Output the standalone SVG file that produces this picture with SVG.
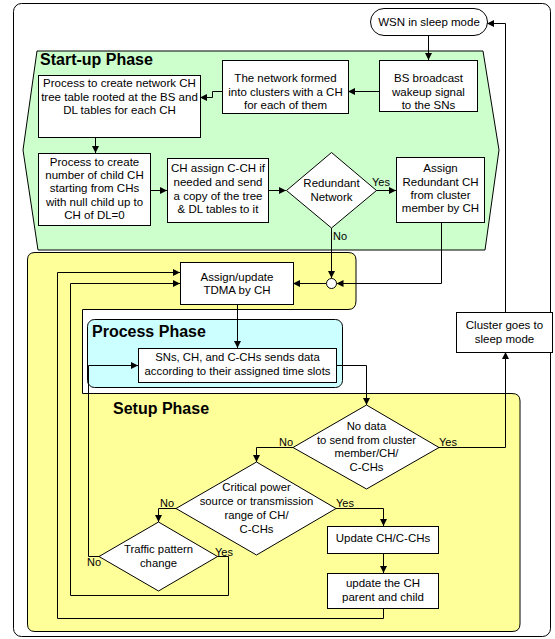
<svg xmlns="http://www.w3.org/2000/svg" width="555" height="639" viewBox="0 0 555 639">
  <defs>
    <marker id="arrow" markerUnits="userSpaceOnUse" markerWidth="8" markerHeight="7" refX="7" refY="3.5" orient="auto">
      <path d="M0,0 L7,3.5 L0,7 Z" fill="#000"/>
    </marker>
    <style>
      text { font-family: "Liberation Sans", Arial, sans-serif; fill: #000; }
      .t { font-size: 11.5px; text-anchor: middle; }
      .s { font-size: 11.3px; text-anchor: middle; }
      .lbl { font-size: 11px; }
      .title { font-size: 16px; font-weight: bold; }
      .box { fill: #fff; stroke: #000; stroke-width: 1; }
      .wire { fill: none; stroke: #000; stroke-width: 1; marker-end: url(#arrow); }
    </style>
  </defs>

  <!-- page frame -->
  <rect x="13.5" y="3.5" width="537" height="633" rx="8" fill="#fff" stroke="#000" stroke-width="1"/>

  <!-- phase regions -->
  <polygon points="37,51 483,51 499,150 485,250 38,250 23,150" fill="#ccffcc" stroke="#000" stroke-width="1"/>
  <path d="M35,252.5 H348 Q356,252.5 356,260 V301 Q356,309.5 348,309.5 H82.5 V393.5 H512 Q520,393.5 520,401 V624 Q520,631.5 512,631.5 H35 Q27.5,631.5 27.5,624 V260 Q27.5,252.5 35,252.5 Z" fill="#ffff99" stroke="#000" stroke-width="1"/>
  <rect x="87.5" y="319.5" width="255" height="68" rx="7" fill="#ccffff" stroke="#000" stroke-width="1"/>

  <text class="title" x="40" y="65">Start-up Phase</text>
  <text class="title" x="92" y="337">Process Phase</text>
  <text class="title" x="113" y="414">Setup Phase</text>

  <!-- connectors -->
  <g id="connectors">
    <path class="wire" d="M428.5,35 V60"/>
    <path class="wire" d="M379,91.5 H348"/>
    <path class="wire" d="M222,91.5 H212.5 V97.5 H200"/>
    <path class="wire" d="M95.5,137 V153"/>
    <path class="wire" d="M150,190.5 H167"/>
    <path class="wire" d="M268,190.5 H286"/>
    <path class="wire" d="M376,190.5 H396"/>
    <path class="wire" d="M331.5,228 V278"/>
    <path class="wire" d="M441.5,222 V283.5 H336.5"/>
    <path class="wire" d="M326,283.5 H293"/>
    <path class="wire" d="M237.5,304 V348"/>
    <path class="wire" d="M336,365.5 H366.5 V405"/>
    <path class="wire" d="M438,447.5 H505.5 V352"/>
    <path class="wire" d="M505.5,312 V23.5 H487"/>
    <path class="wire" d="M293,447.5 H256.5 V462"/>
    <path class="wire" d="M336,508.5 H383.5 V526"/>
    <path class="wire" d="M383.5,553 V573"/>
    <path class="wire" d="M383.5,608 V618.5 H57.5 V272.5 H180"/>
    <path class="wire" d="M176,508.5 H158.5 V522"/>
    <path class="wire" d="M217,556.5 H228.5 V595.5 H70.5 V283.5 H180"/>
    <path class="wire" d="M99,556.5 H88.5 V365.5 H138"/>

    <text class="lbl" x="372" y="186">Yes</text>
    <text class="lbl" x="333" y="240">No</text>
    <text class="lbl" x="439" y="446">Yes</text>
    <text class="lbl" x="279" y="446">No</text>
    <text class="lbl" x="336" y="507">Yes</text>
    <text class="lbl" x="160" y="507">No</text>
    <text class="lbl" x="215" y="556">Yes</text>
    <text class="lbl" x="87" y="566">No</text>
  </g>

  <!-- nodes -->
  <g id="n-wsn">
    <rect class="box" x="370.5" y="8.5" width="117" height="27" rx="13.5"/>
    <text class="t" x="429" y="26">WSN in sleep mode</text>
  </g>
  <g id="n-bs">
    <rect class="box" x="379.5" y="60.5" width="98" height="51"/>
    <text class="t" x="428.5" y="82">BS broadcast</text>
    <text class="t" x="428.5" y="96">wakeup signal</text>
    <text class="t" x="428.5" y="109">to the SNs</text>
  </g>
  <g id="n-formed">
    <rect class="box" x="222.5" y="60.5" width="126" height="53"/>
    <text class="t" x="285.5" y="82">The network formed</text>
    <text class="t" x="285.5" y="96">into clusters with a CH</text>
    <text class="t" x="285.5" y="109">for each of them</text>
  </g>
  <g id="n-tree">
    <rect class="box" x="38.5" y="75.5" width="162" height="62"/>
    <text class="t" x="119.5" y="87">Process to create network CH</text>
    <text class="t" x="119.5" y="101">tree table rooted at the BS and</text>
    <text class="t" x="119.5" y="114">DL tables for each CH</text>
  </g>
  <g id="n-child">
    <rect class="box" x="38.5" y="153.5" width="112" height="72"/>
    <text class="t" x="94.5" y="166">Process to create</text>
    <text class="t" x="94.5" y="179">number of child CH</text>
    <text class="t" x="94.5" y="192">starting from CHs</text>
    <text class="t" x="94.5" y="206">with null child up to</text>
    <text class="t" x="94.5" y="219">CH of DL=0</text>
  </g>
  <g id="n-cch">
    <rect class="box" x="167.5" y="158.5" width="101" height="64"/>
    <text class="t" x="218" y="172">CH assign C-CH if</text>
    <text class="t" x="218" y="186">needed and send</text>
    <text class="t" x="218" y="200">a copy of the tree</text>
    <text class="t" x="218" y="213">&amp; DL tables to it</text>
  </g>
  <g id="n-redundant">
    <polygon class="box" points="331.5,152.5 376.5,190.5 331.5,228 286.5,190.5"/>
    <text class="t" x="331.5" y="187">Redundant</text>
    <text class="t" x="331.5" y="201">Network</text>
  </g>
  <g id="n-assign-redundant">
    <rect class="box" x="396.5" y="157.5" width="88" height="65"/>
    <text class="t" x="440.5" y="172">Assign</text>
    <text class="t" x="440.5" y="186">Redundant CH</text>
    <text class="t" x="440.5" y="199">from cluster</text>
    <text class="t" x="440.5" y="212">member by CH</text>
  </g>
  <g id="n-join">
    <circle cx="331.5" cy="283.5" r="5" fill="#fff" stroke="#000" stroke-width="1"/>
  </g>
  <g id="n-tdma">
    <rect class="box" x="180.5" y="262.5" width="113" height="42"/>
    <text class="t" x="237" y="281">Assign/update</text>
    <text class="t" x="237" y="294">TDMA by CH</text>
  </g>
  <g id="n-send">
    <rect class="box" x="138.5" y="348.5" width="198" height="34"/>
    <text class="s" x="237.5" y="361">SNs, CH, and C-CHs sends data</text>
    <text class="s" x="237.5" y="375">according to their assigned time slots</text>
  </g>
  <g id="n-nodata">
    <polygon class="box" points="366.5,405 439,447.5 366.5,489 293,447.5"/>
    <text class="s" x="366.5" y="430">No data</text>
    <text class="s" x="366.5" y="444">to send from cluster</text>
    <text class="s" x="366.5" y="457">member/CH/</text>
    <text class="s" x="366.5" y="471">C-CHs</text>
  </g>
  <g id="n-critical">
    <polygon class="box" points="256.5,462 336,508.5 256.5,555 176,508.5"/>
    <text class="s" x="256.5" y="491">Critical power</text>
    <text class="s" x="256.5" y="505">source or transmission</text>
    <text class="s" x="256.5" y="519">range of CH/</text>
    <text class="s" x="256.5" y="533">C-CHs</text>
  </g>
  <g id="n-traffic">
    <polygon class="box" points="158.5,522 217.5,556.5 158.5,591 99,556.5"/>
    <text class="s" x="158.5" y="553">Traffic pattern</text>
    <text class="s" x="158.5" y="567">change</text>
  </g>
  <g id="n-update-ch">
    <rect class="box" x="327.5" y="526.5" width="111" height="27"/>
    <text class="t" x="383" y="542">Update CH/C-CHs</text>
  </g>
  <g id="n-update-parent">
    <rect class="box" x="327.5" y="573.5" width="111" height="35"/>
    <text class="t" x="383" y="587">update the CH</text>
    <text class="t" x="383" y="601">parent and child</text>
  </g>
  <g id="n-cluster-sleep">
    <rect class="box" x="456.5" y="312.5" width="96" height="40"/>
    <text class="t" x="504.5" y="329">Cluster goes to</text>
    <text class="t" x="504.5" y="343">sleep mode</text>
  </g>
</svg>
